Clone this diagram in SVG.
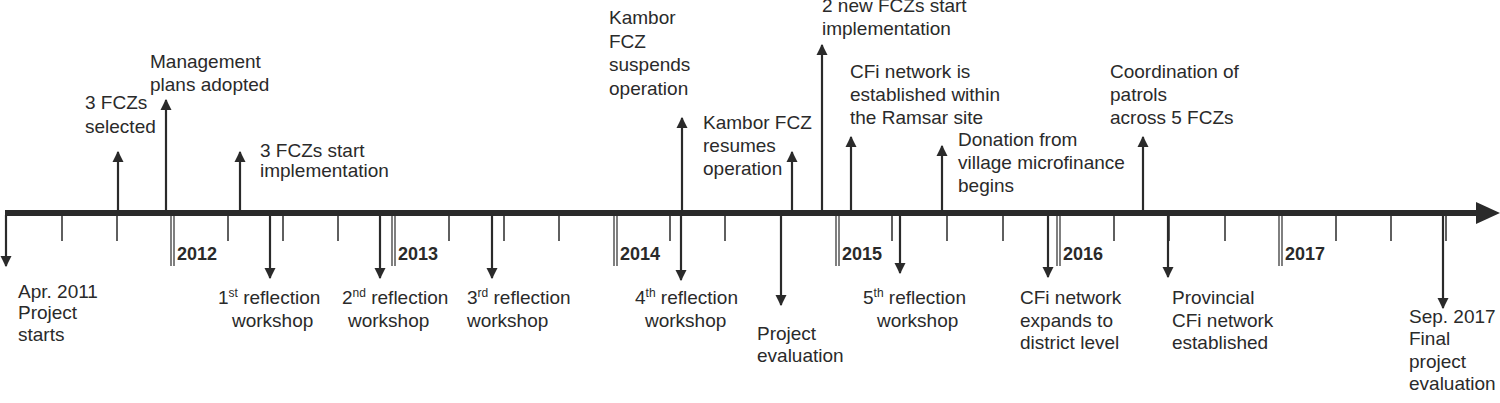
<svg xmlns="http://www.w3.org/2000/svg" width="1500" height="403" viewBox="0 0 1500 403">
<style>
text{font-family:"Liberation Sans",Arial,sans-serif;font-size:19px;fill:#2a2a2a}
.y{font-weight:bold;font-size:18px}
.ax{stroke:#2a2a2a;stroke-width:6}
.t{stroke:#2a2a2a;stroke-width:1.5}
.yr{stroke:#2a2a2a;stroke-width:1.2}
.ar{stroke:#2a2a2a;stroke-width:2.2;marker-end:url(#h)}
.s{font-size:12px}
</style>
<defs>
<marker id="h" viewBox="0 0 10 10" refX="9" refY="5" markerWidth="5" markerHeight="5.5" orient="auto" markerUnits="strokeWidth"><path d="M0,0L10,5L0,10z" fill="#2a2a2a"/></marker>
</defs>
<g id="axis">
<line class="ax" x1="5" y1="213" x2="1480" y2="213"/>
<path d="M1476,202L1500,213L1476,224z" fill="#2a2a2a"/>
<g class="t">
<line x1="62" y1="216" x2="62" y2="241"/><line x1="117" y1="216" x2="117" y2="241"/>
<line x1="228" y1="216" x2="228" y2="241"/><line x1="283" y1="216" x2="283" y2="241"/><line x1="338" y1="216" x2="338" y2="241"/>
<line x1="449" y1="216" x2="449" y2="241"/><line x1="504" y1="216" x2="504" y2="241"/><line x1="559" y1="216" x2="559" y2="241"/>
<line x1="670" y1="216" x2="670" y2="241"/><line x1="725" y1="216" x2="725" y2="241"/><line x1="781" y1="216" x2="781" y2="241"/>
<line x1="892" y1="216" x2="892" y2="241"/><line x1="947" y1="216" x2="947" y2="241"/><line x1="1003" y1="216" x2="1003" y2="241"/>
<line x1="1114" y1="216" x2="1114" y2="241"/><line x1="1169" y1="216" x2="1169" y2="241"/><line x1="1225" y1="216" x2="1225" y2="241"/>
<line x1="1336" y1="216" x2="1336" y2="241"/><line x1="1391" y1="216" x2="1391" y2="241"/><line x1="1446" y1="216" x2="1446" y2="241"/>
</g>
<g class="yr">
<line x1="171" y1="216" x2="171" y2="266"/><line x1="174" y1="216" x2="174" y2="266"/>
<line x1="392" y1="216" x2="392" y2="266"/><line x1="395" y1="216" x2="395" y2="266"/>
<line x1="614" y1="216" x2="614" y2="266"/><line x1="617" y1="216" x2="617" y2="266"/>
<line x1="836" y1="216" x2="836" y2="266"/><line x1="839" y1="216" x2="839" y2="266"/>
<line x1="1057" y1="216" x2="1057" y2="266"/><line x1="1060" y1="216" x2="1060" y2="266"/>
<line x1="1279" y1="216" x2="1279" y2="266"/><line x1="1282" y1="216" x2="1282" y2="266"/>
</g>
<text class="y" x="177" y="260">2012</text><text class="y" x="398" y="260">2013</text><text class="y" x="620" y="260">2014</text>
<text class="y" x="842" y="260">2015</text><text class="y" x="1063" y="260">2016</text><text class="y" x="1285" y="260">2017</text>
</g>
<g id="connectors">
<line class="ar" x1="118" y1="211" x2="118" y2="152"/>
<line class="ar" x1="166" y1="211" x2="166" y2="100"/>
<line class="ar" x1="240" y1="211" x2="240" y2="152"/>
<line class="ar" x1="682" y1="211" x2="682" y2="118"/>
<line class="ar" x1="792" y1="211" x2="792" y2="152"/>
<line class="ar" x1="822" y1="211" x2="822" y2="45"/>
<line class="ar" x1="851" y1="211" x2="851" y2="137"/>
<line class="ar" x1="942" y1="211" x2="942" y2="146"/>
<line class="ar" x1="1143" y1="211" x2="1143" y2="137"/>
<line class="ar" x1="6" y1="215" x2="6" y2="266"/>
<line class="ar" x1="270" y1="215" x2="270" y2="278"/>
<line class="ar" x1="380" y1="215" x2="380" y2="278"/>
<line class="ar" x1="492" y1="215" x2="492" y2="278"/>
<line class="ar" x1="681" y1="215" x2="681" y2="280"/>
<line class="ar" x1="781" y1="215" x2="781" y2="305"/>
<line class="ar" x1="900" y1="215" x2="900" y2="273"/>
<line class="ar" x1="1048" y1="215" x2="1048" y2="277"/>
<line class="ar" x1="1168" y1="215" x2="1168" y2="277"/>
<line class="ar" x1="1443" y1="215" x2="1443" y2="308"/>
</g>
<g id="n1"><text x="85" y="109">3 FCZs</text><text x="85" y="133">selected</text></g>
<g id="n2"><text x="150" y="68">Management</text><text x="150" y="91">plans adopted</text></g>
<g id="n3"><text x="260" y="157">3 FCZs start</text><text x="260" y="177">implementation</text></g>
<g id="n4"><text x="609" y="24">Kambor</text><text x="609" y="48">FCZ</text><text x="609" y="71">suspends</text><text x="609" y="95">operation</text></g>
<g id="n5"><text x="703" y="129">Kambor FCZ</text><text x="703" y="152">resumes</text><text x="703" y="175">operation</text></g>
<g id="n6"><text x="822" y="12">2 new FCZs start</text><text x="822" y="35">implementation</text></g>
<g id="n7"><text x="850" y="78">CFi network is</text><text x="850" y="101">established within</text><text x="850" y="124">the Ramsar site</text></g>
<g id="n8"><text x="958" y="146">Donation from</text><text x="958" y="169">village microfinance</text><text x="958" y="192">begins</text></g>
<g id="n9"><text x="1110" y="78">Coordination of</text><text x="1110" y="101">patrols</text><text x="1110" y="124">across 5 FCZs</text></g>
<g id="n10"><text x="18" y="298">Apr. 2011</text><text x="18" y="319">Project</text><text x="18" y="341">starts</text></g>
<g id="n11"><text x="218" y="304">1<tspan class="s" dy="-7">st</tspan><tspan dy="7"> reflection</tspan></text><text x="232" y="327">workshop</text></g>
<g id="n12"><text x="342" y="304">2<tspan class="s" dy="-7">nd</tspan><tspan dy="7"> reflection</tspan></text><text x="348" y="327">workshop</text></g>
<g id="n13"><text x="467" y="304">3<tspan class="s" dy="-7">rd</tspan><tspan dy="7"> reflection</tspan></text><text x="467" y="327">workshop</text></g>
<g id="n14"><text x="635" y="304">4<tspan class="s" dy="-7">th</tspan><tspan dy="7"> reflection</tspan></text><text x="645" y="327">workshop</text></g>
<g id="n15"><text x="757" y="340">Project</text><text x="757" y="362">evaluation</text></g>
<g id="n16"><text x="863" y="304">5<tspan class="s" dy="-7">th</tspan><tspan dy="7"> reflection</tspan></text><text x="877" y="327">workshop</text></g>
<g id="n17"><text x="1020" y="304">CFi network</text><text x="1020" y="327">expands to</text><text x="1020" y="349">district level</text></g>
<g id="n18"><text x="1172" y="304">Provincial</text><text x="1172" y="327">CFi network</text><text x="1172" y="349">established</text></g>
<g id="n19"><text x="1409" y="323">Sep. 2017</text><text x="1409" y="345">Final</text><text x="1409" y="368">project</text><text x="1409" y="390">evaluation</text></g>
</svg>
